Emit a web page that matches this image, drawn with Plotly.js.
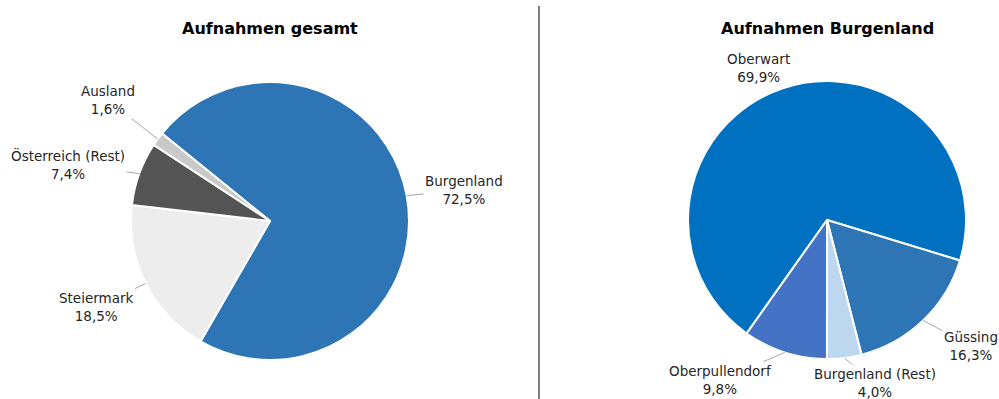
<!DOCTYPE html>
<html>
<head>
<meta charset="utf-8">
<script src="https://cdn.plot.ly/plotly-3.0.1.min.js"></script>
<style>html,body{margin:0;padding:0;background:#fff;}#chart{width:999px;height:399px;}</style>
</head>
<body>
<div id="chart"></div>
<script>
// ---- data ----
const leftTitle = "Aufnahmen gesamt";
const leftLabels = ["Burgenland", "Steiermark", "Österreich (Rest)", "Ausland"];
const leftValues = [72.5, 18.5, 7.4, 1.6];
const leftColors = ["#2E75B6", "#EDEDED", "#545454", "#C9C9C9"];

const rightTitle = "Aufnahmen Burgenland";
const rightLabels = ["Oberwart", "Güssing", "Burgenland (Rest)", "Oberpullendorf"];
const rightValues = [69.9, 16.3, 4.0, 9.8];
const rightColors = ["#0070C0", "#2E75B6", "#BDD7EE", "#4472C4"];

// ---- layout constants (pixels) ----
const W = 999, H = 399;
const FONT = "DejaVu Sans, Verdana, sans-serif";
const pies = [
  {cx: 270, cy: 221, r: 139, rotation: 309, labels: leftLabels, values: leftValues, colors: leftColors,
   title: leftTitle, titleY: 29,
   labelPos: [[464, 190], [96, 307], [68, 164], [108, 100]], arrows: [true, true, true, true]},
  {cx: 827, cy: 220, r: 139, rotation: 215.3, labels: rightLabels, values: rightValues, colors: rightColors,
   title: rightTitle, titleY: 29,
   labelPos: [[758, 68], [971, 346], [875, 383], [720, 380]], arrows: [false, true, true, true]}
];

function fmt(v) { return v.toFixed(1).replace(".", ","); }

const traces = [];
const annotations = [];
pies.forEach(p => {
  traces.push({
    type: "pie",
    labels: p.labels,
    values: p.values,
    sort: false,
    direction: "clockwise",
    rotation: p.rotation,
    marker: {colors: p.colors, line: {color: "#FFFFFF", width: 2}},
    textinfo: "none",
    hoverinfo: "skip",
    showlegend: false,
    domain: {
      x: [(p.cx - p.r) / W, (p.cx + p.r) / W],
      y: [1 - (p.cy + p.r) / H, 1 - (p.cy - p.r) / H]
    }
  });
  annotations.push({
    xref: "paper", yref: "paper", x: p.cx / W, y: 1 - p.titleY / H,
    xanchor: "center", yanchor: "middle", showarrow: false,
    text: "<b>" + p.title + "</b>",
    font: {family: FONT, size: 16, color: "#000000"}
  });
  const total = p.values.reduce((a, b) => a + b, 0);
  let cum = 0;
  p.values.forEach((v, i) => {
    const mid = (p.rotation + (cum + v / 2) / total * 360) * Math.PI / 180;
    cum += v;
    const tx = p.cx + p.r * Math.sin(mid);
    const ty = p.cy - p.r * Math.cos(mid);
    const [lx, ly] = p.labelPos[i];
    const txt = p.labels[i] + "<br>" + fmt(v) + "%";
    if (p.arrows[i]) {
      annotations.push({
        xref: "paper", yref: "paper", x: tx / W, y: 1 - ty / H,
        ax: lx - tx, ay: ly - ty,
        showarrow: true, arrowhead: 0, arrowwidth: 1, arrowcolor: "#A6A6A6",
        text: txt, align: "center",
        font: {family: FONT, size: 13.5, color: "#262626"}
      });
    } else {
      annotations.push({
        xref: "paper", yref: "paper", x: lx / W, y: 1 - ly / H,
        xanchor: "center", yanchor: "middle", showarrow: false,
        text: txt, align: "center",
        font: {family: FONT, size: 13.5, color: "#262626"}
      });
    }
  });
});

const layout = {
  width: W, height: H,
  margin: {l: 0, r: 0, t: 0, b: 0},
  paper_bgcolor: "#FFFFFF",
  plot_bgcolor: "#FFFFFF",
  showlegend: false,
  annotations: annotations,
  shapes: [{
    type: "line", xref: "paper", yref: "paper",
    x0: 539 / W, x1: 539 / W, y0: 0, y1: 1 - 6 / H,
    line: {color: "#000000", width: 1}
  }]
};

Plotly.newPlot("chart", traces, layout, {displayModeBar: false, staticPlot: true});
</script>
</body>
</html>
